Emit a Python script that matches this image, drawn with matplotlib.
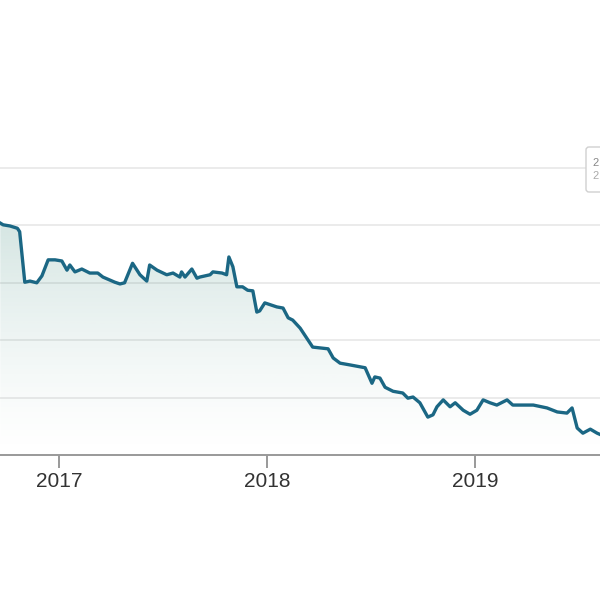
import numpy as np
import pandas as pd
import matplotlib
matplotlib.use('Agg')
import matplotlib.pyplot as plt
import matplotlib.dates as mdates
from matplotlib.patches import FancyBboxPatch

dates = ['2016-09-20', '2016-09-25', '2016-10-07', '2016-10-20', '2016-10-24',
         '2016-11-02', '2016-11-11', '2016-11-23', '2016-12-02', '2016-12-13',
         '2016-12-25', '2017-01-06', '2017-01-15', '2017-01-20', '2017-01-29',
         '2017-02-10', '2017-02-24', '2017-03-10', '2017-03-19', '2017-04-09',
         '2017-04-18', '2017-04-26', '2017-05-10', '2017-05-23', '2017-06-04',
         '2017-06-09', '2017-06-22', '2017-07-09', '2017-07-20', '2017-08-01',
         '2017-08-04', '2017-08-10', '2017-08-22', '2017-08-31', '2017-09-05',
         '2017-09-23', '2017-09-28', '2017-10-14', '2017-10-22', '2017-10-26',
         '2017-11-02', '2017-11-09', '2017-11-19', '2017-11-28', '2017-12-07',
         '2017-12-14', '2017-12-19', '2017-12-28', '2018-01-18', '2018-01-29',
         '2018-02-07', '2018-02-15', '2018-02-28', '2018-03-22', '2018-04-18',
         '2018-04-27', '2018-05-09', '2018-05-26', '2018-06-22', '2018-07-04',
         '2018-07-09', '2018-07-18', '2018-07-27', '2018-08-10', '2018-08-27',
         '2018-09-05', '2018-09-14', '2018-09-26', '2018-10-10', '2018-10-19',
         '2018-10-26', '2018-11-06', '2018-11-18', '2018-11-27', '2018-12-11',
         '2018-12-23', '2019-01-04', '2019-01-15', '2019-01-27', '2019-02-08',
         '2019-02-26', '2019-03-08', '2019-04-02', '2019-04-13', '2019-05-07',
         '2019-05-25', '2019-06-11', '2019-06-20', '2019-06-29', '2019-07-09',
         '2019-07-22', '2019-08-03', '2019-08-10']
values = [40.4, 40.1, 39.9, 39.5, 38.9,
          30.1, 30.3, 30.0, 31.2, 34.0,
          34.0, 33.8, 32.2, 33.1, 31.9,
          32.4, 31.7, 31.7, 31.0, 30.1,
          29.8, 30.0, 33.4, 31.4, 30.3,
          33.1, 32.2, 31.4, 31.7, 31.0,
          31.9, 31.0, 32.4, 30.8, 31.0,
          31.4, 31.9, 31.7, 31.4, 34.5,
          32.8, 29.3, 29.3, 28.7, 28.6,
          24.9, 25.1, 26.5, 25.8, 25.6,
          23.9, 23.5, 22.1, 18.8, 18.5,
          16.9, 16.0, 15.7, 15.2, 12.5,
          13.6, 13.4, 11.8, 11.1, 10.8,
          9.9, 10.1, 9.1, 6.6, 7.0,
          8.4, 9.6, 8.4, 9.1, 7.8,
          7.1, 7.8, 9.6, 9.1, 8.7,
          9.6, 8.7, 8.7, 8.7, 8.2,
          7.5, 7.3, 8.2, 4.7, 3.8,
          4.5, 3.8, 3.5]
year_ticks = ['2017-01-01', '2018-01-01', '2019-01-01']
year_labels = ['2017', '2018', '2019']
grid_levels = [10, 20, 30, 40, 50]

x = pd.to_datetime(dates)
y = np.array(values)
xn = mdates.date2num(x)

fig = plt.figure(figsize=(6, 6), dpi=100)
ax = fig.add_axes([0, 145 / 600, 1, 455 / 600])
ymax = 455 / 5.74

# gradient fill under the line
fill = ax.fill_between(x, y, 0, color='none', lw=0)
grad = np.zeros((256, 1, 4))
rgb = matplotlib.colors.to_rgb('#3d8a7c')
grad[:, 0, :3] = rgb
grad[:, 0, 3] = np.linspace(0.32, 0.0, 256) ** 1.3
img = ax.imshow(grad, aspect='auto', origin='upper',
                extent=[xn.min(), xn.max(), 0, 42], zorder=1)
img.set_clip_path(fill.get_paths()[0], transform=ax.transData)

for g in grid_levels:
    ax.axhline(g, color='#e6e6e6', lw=1.1, zorder=0)

ax.plot(x, y, color='#1b6784', lw=2.4, zorder=3, solid_joinstyle='round')

ax.set_xlim(pd.Timestamp('2016-09-19 12:00'), pd.Timestamp('2019-08-08'))
ax.set_ylim(0, ymax)
ax.set_yticks([])
ax.set_xticks(pd.to_datetime(year_ticks))
ax.set_xticklabels(year_labels, fontsize=15, color='#333333',
                   family='Liberation Sans')
ax.tick_params(axis='x', length=9, width=1.2, color='#888888', pad=3)
for s in ['top', 'left', 'right']:
    ax.spines[s].set_visible(False)
ax.spines['bottom'].set_color('#999999')
ax.spines['bottom'].set_linewidth(1.4)

# cut-off tooltip box at right edge
box = FancyBboxPatch((586 / 600, 1 - 192 / 600), 30 / 600, 45 / 600,
                     boxstyle='round,pad=0,rounding_size=0.005',
                     transform=fig.transFigure, facecolor='white',
                     edgecolor='#d0d0d0', lw=1.0, zorder=5)
fig.patches.append(box)
fig.text(592 / 600, 1 - 163 / 600, '2', fontsize=8, color='#888888',
         va='center', family='Liberation Sans', zorder=6)
fig.text(592 / 600, 1 - 176 / 600, '2', fontsize=8, color='#aaaaaa',
         va='center', family='Liberation Sans', zorder=6)

fig.savefig('out.png', dpi=100)
